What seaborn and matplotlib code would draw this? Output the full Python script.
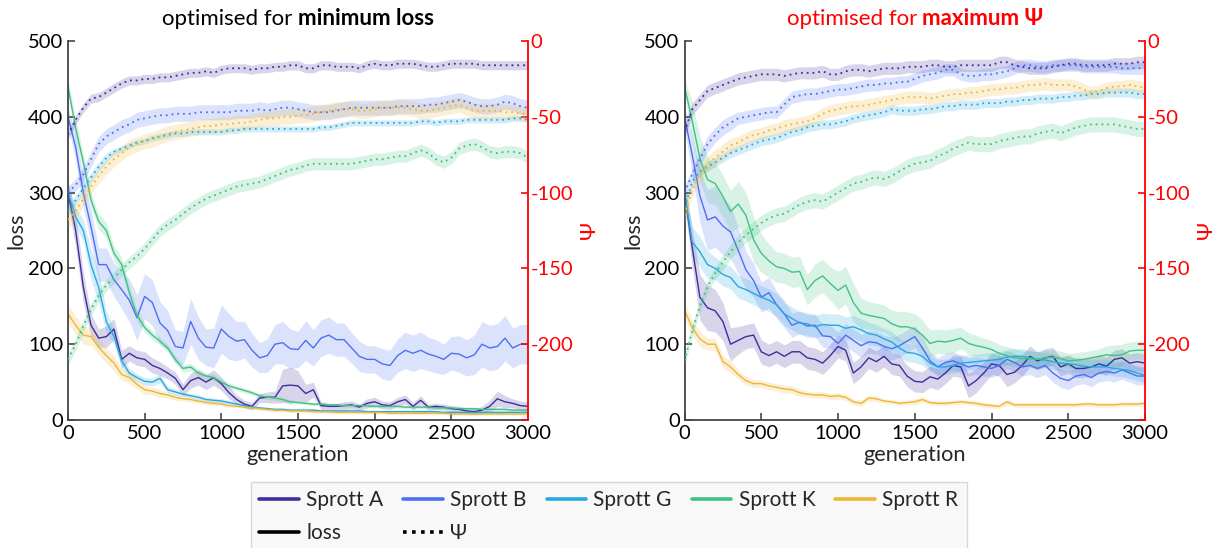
import numpy as np
import matplotlib
matplotlib.use("Agg")
import matplotlib.pyplot as plt
import seaborn as sns
from matplotlib.lines import Line2D

# ---------------------------------------------------------------- data
generation = list(range(0, 3001, 50))

systems = ["Sprott A", "Sprott B", "Sprott G", "Sprott K", "Sprott R"]
colors = ["#3c2e9e", "#4d6ff2", "#27a8e0", "#40c283", "#eeb634"]

# --- optimised for minimum loss: loss (mean, half band width)
minloss_loss_A = [300, 250, 175, 125, 108, 110, 120, 80, 88, 82,
                  80, 72, 68, 62, 55, 40, 52, 56, 50, 56,
                  48, 36, 27, 21, 18, 29, 30, 30, 45, 46,
                  45, 35, 40, 19, 18, 18, 19, 20, 17, 22,
                  24, 20, 19, 24, 27, 18, 26, 17, 18, 17,
                  15, 14, 12, 11, 13, 18, 28, 24, 22, 19,
                  18]
minloss_loss_A_band = [15, 22, 20, 15, 12, 14, 14, 12, 10, 10,
                       10, 10, 9, 8, 8, 8, 10, 10, 10, 10,
                       9, 8, 6, 5, 5, 6, 7, 8, 22, 24,
                       20, 12, 10, 5, 4, 4, 5, 5, 4, 6,
                       6, 5, 5, 6, 6, 5, 6, 4, 4, 4,
                       4, 4, 4, 4, 5, 8, 10, 8, 6, 6,
                       6]
minloss_loss_B = [400, 360, 300, 255, 205, 205, 185, 172, 158, 135,
                  163, 155, 128, 118, 97, 95, 130, 108, 96, 95,
                  120, 110, 104, 106, 92, 82, 85, 100, 102, 94,
                  93, 105, 95, 108, 112, 106, 106, 95, 84, 80,
                  80, 74, 72, 85, 92, 88, 92, 87, 84, 80,
                  88, 87, 82, 86, 100, 95, 97, 108, 95, 100,
                  100]
minloss_loss_B_band = [12, 18, 20, 22, 22, 22, 22, 25, 28, 30,
                       30, 30, 28, 26, 22, 22, 30, 28, 24, 26,
                       32, 30, 26, 24, 22, 20, 22, 26, 28, 26,
                       24, 26, 24, 24, 24, 22, 22, 20, 20, 18,
                       18, 20, 20, 22, 24, 24, 24, 22, 22, 20,
                       22, 24, 24, 26, 30, 30, 30, 30, 26, 26,
                       26]
minloss_loss_G = [300, 268, 250, 205, 175, 130, 110, 78, 62, 56,
                  51, 50, 55, 40, 37, 34, 32, 30, 27, 26,
                  25, 23, 21, 19, 17, 16, 15, 14, 14, 13,
                  13, 13, 13, 12, 12, 12, 12, 12, 12, 11,
                  11, 11, 11, 11, 11, 11, 11, 11, 11, 10,
                  10, 10, 10, 10, 10, 10, 10, 10, 10, 10,
                  10]
minloss_loss_G_band = [10, 12, 14, 20, 20, 15, 10, 8, 6, 5,
                       5, 5, 6, 4, 4, 3, 3, 3, 3, 3,
                       3, 3, 2, 2, 2, 2, 2, 2, 2, 2,
                       2, 2, 2, 2, 2, 2, 2, 2, 2, 2,
                       2, 2, 2, 2, 2, 2, 2, 2, 2, 2,
                       2, 2, 2, 2, 2, 2, 2, 2, 2, 2,
                       2]
minloss_loss_K = [440, 385, 340, 290, 262, 250, 220, 205, 168, 138,
                  122, 112, 104, 95, 80, 68, 70, 62, 58, 56,
                  50, 45, 42, 39, 36, 32, 30, 29, 27, 24,
                  23, 22, 21, 21, 20, 20, 19, 19, 19, 19,
                  18, 18, 18, 18, 17, 17, 17, 17, 16, 16,
                  16, 15, 15, 15, 14, 14, 14, 14, 13, 13,
                  13]
minloss_loss_K_band = [10, 12, 12, 10, 10, 10, 10, 10, 8, 8,
                       6, 6, 5, 5, 5, 5, 5, 5, 4, 4,
                       4, 4, 3, 3, 3, 3, 3, 3, 3, 3,
                       2, 2, 2, 2, 2, 2, 2, 2, 2, 2,
                       2, 2, 2, 2, 2, 2, 2, 2, 2, 2,
                       2, 2, 2, 2, 2, 2, 2, 2, 2, 2,
                       2]
minloss_loss_R = [140, 125, 112, 110, 96, 85, 75, 60, 56, 47,
                  40, 38, 35, 33, 30, 28, 27, 25, 23, 22,
                  21, 19, 18, 17, 16, 15, 14, 13, 13, 12,
                  12, 12, 11, 11, 11, 10, 10, 10, 10, 10,
                  10, 10, 9, 9, 9, 9, 9, 9, 9, 9,
                  8, 8, 8, 8, 8, 8, 8, 8, 8, 8,
                  8]
minloss_loss_R_band = [12, 12, 12, 12, 10, 10, 10, 8, 8, 6,
                       6, 5, 5, 4, 4, 3, 3, 3, 3, 3,
                       2, 2, 2, 2, 2, 2, 2, 2, 2, 2,
                       2, 2, 2, 2, 2, 2, 2, 2, 2, 2,
                       2, 2, 2, 2, 2, 2, 2, 2, 2, 2,
                       2, 2, 2, 2, 2, 2, 2, 2, 2, 2,
                       2]

# --- optimised for minimum loss: Psi
minloss_psi_A = [-62, -52, -44, -38, -37, -34, -31, -28, -26, -26,
                 -25, -25, -24, -24, -23, -22, -21, -21, -20, -21,
                 -19, -18, -18, -18, -19, -18, -18, -17, -17, -16,
                 -16, -18, -18, -16, -16, -17, -17, -17, -18, -16,
                 -15, -16, -16, -15, -15, -15, -16, -17, -17, -16,
                 -15, -15, -15, -15, -16, -16, -16, -16, -16, -16,
                 -16]
minloss_psi_B = [-100, -95, -88, -78, -68, -63, -60, -57, -55, -52,
                 -51, -50, -49, -49, -48, -48, -48, -47, -47, -47,
                 -47, -47, -46, -46, -46, -45, -46, -45, -44, -44,
                 -45, -46, -47, -47, -47, -46, -45, -44, -44, -44,
                 -44, -44, -44, -43, -43, -43, -43, -42, -42, -41,
                 -40, -39, -40, -42, -43, -43, -42, -40, -41, -43,
                 -44]
minloss_psi_G = [-112, -105, -97, -90, -83, -77, -73, -71, -69, -67,
                 -66, -64, -63, -62, -61, -61, -60, -60, -60, -60,
                 -60, -59, -59, -58, -58, -58, -58, -58, -58, -58,
                 -58, -58, -58, -57, -57, -56, -55, -54, -54, -54,
                 -54, -54, -54, -54, -54, -54, -53, -53, -54, -53,
                 -53, -53, -52, -52, -52, -52, -52, -52, -51, -51,
                 -52]
minloss_psi_K = [-210, -200, -188, -177, -168, -161, -156, -151, -146, -142,
                 -137, -131, -125, -121, -118, -114, -110, -107, -104, -102,
                 -100, -98, -96, -95, -94, -93, -91, -89, -87, -85,
                 -84, -82, -81, -81, -81, -81, -81, -81, -80, -79,
                 -78, -78, -77, -76, -76, -74, -72, -74, -78, -80,
                 -77, -71, -69, -68, -70, -73, -74, -73, -73, -74,
                 -77]
minloss_psi_R = [-118, -112, -104, -96, -89, -83, -78, -74, -70, -68,
                 -66, -65, -63, -61, -60, -59, -58, -57, -56, -56,
                 -55, -55, -54, -54, -53, -52, -51, -51, -50, -50,
                 -49, -49, -48, -47, -46, -45, -45, -45, -46, -46,
                 -45, -44, -44, -44, -44, -45, -46, -46, -45, -44,
                 -43, -42, -44, -46, -46, -46, -46, -47, -47, -48,
                 -48]
minloss_psi_band_A = [3, 3, 3, 3, 3, 3, 3, 3, 3, 3,
                      3, 3, 3, 3, 3, 3, 3, 3, 3, 3,
                      3, 3, 3, 3, 3, 3, 3, 3, 3, 3,
                      3, 3, 3, 3, 3, 3, 3, 3, 3, 3,
                      3, 3, 3, 3, 3, 3, 3, 3, 3, 3,
                      3, 3, 3, 3, 3, 3, 3, 3, 3, 3,
                      3]
minloss_psi_band_B = [4, 4, 5, 5, 5, 5, 5, 5, 5, 5,
                      5, 5, 5, 5, 5, 5, 5, 5, 5, 5,
                      5, 5, 5, 5, 5, 5, 5, 5, 5, 5,
                      5, 5, 5, 5, 5, 5, 5, 5, 5, 5,
                      5, 5, 5, 5, 5, 5, 5, 5, 5, 5,
                      5, 5, 5, 5, 5, 5, 5, 5, 5, 5,
                      5]
minloss_psi_band_G = [3, 3, 3, 3, 3, 3, 2, 2, 2, 2,
                      2, 2, 2, 2, 2, 2, 2, 2, 2, 2,
                      2, 2, 2, 2, 2, 2, 2, 2, 2, 2,
                      2, 2, 2, 2, 2, 2, 2, 2, 2, 2,
                      2, 2, 2, 2, 2, 2, 2, 2, 2, 2,
                      2, 2, 2, 2, 2, 2, 2, 2, 2, 2,
                      2]
minloss_psi_band_K = [4, 4, 4, 4, 4, 4, 4, 4, 4, 4,
                      4, 4, 4, 4, 4, 4, 4, 4, 4, 4,
                      4, 4, 4, 4, 4, 4, 4, 4, 4, 4,
                      4, 4, 4, 4, 4, 4, 4, 4, 4, 4,
                      4, 4, 4, 4, 4, 4, 4, 4, 4, 4,
                      4, 4, 4, 4, 4, 4, 4, 4, 4, 4,
                      4]
minloss_psi_band_R = [6, 6, 5, 5, 5, 5, 5, 5, 5, 5,
                      5, 5, 5, 5, 5, 5, 5, 5, 5, 5,
                      5, 5, 5, 5, 5, 5, 5, 5, 5, 5,
                      5, 5, 5, 5, 5, 5, 5, 5, 5, 5,
                      5, 5, 5, 5, 5, 5, 5, 5, 5, 5,
                      5, 5, 5, 5, 5, 5, 5, 5, 5, 5,
                      5]

# --- optimised for maximum Psi: loss
maxpsi_loss_A = [300, 228, 162, 148, 144, 130, 100, 105, 110, 112,
                 90, 85, 90, 84, 90, 90, 82, 80, 75, 85,
                 97, 92, 62, 70, 82, 77, 84, 74, 72, 58,
                 51, 50, 57, 54, 62, 72, 70, 45, 52, 62,
                 74, 72, 60, 63, 72, 84, 78, 82, 84, 70,
                 74, 68, 68, 70, 74, 71, 80, 82, 75, 77,
                 75]
maxpsi_loss_A_band = [15, 25, 30, 30, 28, 25, 22, 18, 16, 16,
                      16, 15, 15, 15, 15, 15, 15, 15, 15, 15,
                      15, 14, 14, 14, 14, 14, 14, 14, 14, 14,
                      14, 14, 14, 14, 14, 14, 14, 16, 16, 14,
                      14, 14, 16, 14, 14, 14, 12, 12, 12, 12,
                      12, 12, 12, 12, 12, 12, 12, 12, 12, 12,
                      12]
maxpsi_loss_B = [400, 350, 296, 264, 268, 256, 248, 224, 198, 184,
                 162, 168, 152, 140, 125, 129, 124, 125, 111, 110,
                 101, 112, 105, 98, 103, 102, 97, 94, 98, 104,
                 110, 95, 78, 70, 76, 78, 74, 70, 72, 70,
                 68, 72, 80, 76, 70, 72, 68, 72, 62, 55,
                 52, 58, 60, 56, 62, 64, 62, 66, 62, 58,
                 58]
maxpsi_loss_B_band = [15, 25, 35, 40, 40, 38, 35, 30, 25, 22,
                      20, 20, 18, 18, 16, 15, 15, 15, 15, 15,
                      15, 15, 15, 15, 15, 15, 15, 15, 15, 15,
                      15, 15, 12, 12, 12, 12, 12, 12, 12, 12,
                      12, 12, 12, 12, 12, 12, 12, 12, 12, 12,
                      12, 12, 12, 12, 12, 12, 12, 12, 12, 12,
                      12]
maxpsi_loss_G = [300, 235, 222, 205, 200, 192, 188, 176, 172, 167,
                 162, 158, 152, 140, 134, 128, 127, 123, 126, 125,
                 125, 121, 123, 119, 114, 112, 107, 103, 95, 89,
                 88, 84, 75, 70, 70, 72, 75, 76, 77, 78,
                 79, 80, 83, 84, 84, 82, 80, 79, 77, 75,
                 74, 73, 71, 70, 70, 70, 68, 67, 65, 62,
                 59]
maxpsi_loss_G_band = [15, 20, 20, 18, 15, 15, 15, 15, 15, 15,
                      15, 15, 15, 15, 15, 15, 15, 15, 15, 15,
                      15, 15, 15, 15, 15, 14, 14, 14, 12, 12,
                      12, 12, 10, 10, 10, 10, 10, 10, 10, 10,
                      10, 10, 10, 10, 10, 10, 10, 10, 10, 10,
                      10, 10, 10, 10, 10, 10, 10, 10, 10, 10,
                      10]
maxpsi_loss_K = [440, 395, 345, 317, 312, 295, 275, 285, 270, 238,
                 220, 210, 202, 200, 195, 196, 172, 184, 190, 180,
                 171, 178, 155, 141, 138, 136, 134, 127, 123, 123,
                 120, 112, 101, 104, 103, 105, 108, 101, 98, 96,
                 93, 88, 85, 82, 81, 81, 80, 82, 83, 81,
                 78, 79, 80, 82, 84, 86, 85, 86, 91, 92,
                 92]
maxpsi_loss_K_band = [10, 25, 30, 30, 28, 28, 28, 30, 30, 30,
                      25, 22, 20, 20, 20, 20, 20, 22, 22, 22,
                      25, 25, 25, 20, 18, 18, 18, 18, 20, 20,
                      20, 20, 18, 16, 16, 16, 14, 14, 14, 12,
                      12, 12, 12, 12, 10, 10, 10, 10, 10, 10,
                      10, 10, 10, 10, 10, 12, 14, 14, 12, 12,
                      12]
maxpsi_loss_R = [145, 122, 107, 100, 100, 77, 70, 60, 52, 48,
                 48, 45, 43, 41, 40, 36, 34, 33, 33, 31,
                 32, 30, 24, 22, 29, 28, 25, 24, 22, 23,
                 24, 27, 23, 22, 22, 23, 24, 23, 22, 20,
                 19, 18, 24, 20, 20, 20, 20, 20, 20, 20,
                 20, 20, 21, 21, 20, 20, 20, 21, 21, 21,
                 22]
maxpsi_loss_R_band = [10, 10, 10, 8, 8, 8, 8, 6, 6, 5,
                      5, 5, 5, 5, 5, 5, 4, 4, 4, 4,
                      4, 4, 4, 4, 4, 4, 3, 3, 3, 3,
                      4, 4, 3, 3, 3, 3, 3, 3, 3, 3,
                      3, 3, 4, 3, 3, 3, 3, 3, 3, 3,
                      3, 3, 3, 3, 3, 3, 3, 3, 3, 3,
                      3]

# --- optimised for maximum Psi: Psi
maxpsi_psi_A = [-60, -45, -39, -33, -31, -29, -27, -25, -24, -23,
                -22, -22, -22, -23, -22, -21, -21, -21, -20, -22,
                -22, -20, -19, -19, -20, -19, -18, -18, -18, -17,
                -17, -17, -16, -16, -17, -17, -16, -16, -16, -16,
                -16, -14, -14, -16, -17, -18, -18, -18, -17, -16,
                -15, -15, -16, -16, -16, -16, -15, -15, -15, -14,
                -14]
maxpsi_psi_B = [-100, -88, -78, -68, -62, -57, -54, -51, -50, -49,
                -48, -47, -47, -42, -37, -36, -35, -35, -34, -33,
                -32, -32, -31, -30, -29, -29, -28, -28, -27, -27,
                -25, -23, -22, -21, -19, -19, -22, -23, -23, -22,
                -22, -21, -20, -18, -16, -16, -17, -17, -16, -16,
                -16, -16, -17, -17, -17, -17, -17, -18, -18, -18,
                -18]
maxpsi_psi_G = [-110, -93, -86, -83, -80, -77, -74, -72, -70, -68,
                -66, -65, -64, -62, -60, -59, -57, -56, -55, -55,
                -54, -53, -51, -50, -49, -48, -47, -45, -46, -46,
                -46, -45, -45, -44, -43, -43, -42, -42, -42, -41,
                -41, -41, -40, -40, -39, -39, -38, -38, -38, -37,
                -37, -36, -36, -35, -35, -34, -34, -34, -34, -35,
                -35]
maxpsi_psi_K = [-211, -191, -175, -162, -153, -146, -139, -133, -128, -124,
                -120, -117, -115, -114, -111, -108, -106, -105, -106, -103,
                -100, -97, -94, -93, -91, -90, -91, -89, -86, -83,
                -81, -80, -79, -76, -74, -71, -69, -67, -68, -68,
                -68, -66, -65, -64, -63, -63, -61, -60, -59, -61,
                -59, -57, -56, -55, -55, -55, -55, -56, -57, -58,
                -58]
maxpsi_psi_R = [-115, -98, -88, -81, -77, -73, -69, -67, -64, -62,
                -61, -59, -58, -56, -55, -54, -53, -51, -48, -46,
                -45, -44, -43, -43, -42, -41, -40, -39, -38, -37,
                -37, -37, -38, -37, -36, -35, -35, -34, -34, -33,
                -32, -32, -31, -31, -30, -29, -29, -28, -29, -29,
                -29, -30, -32, -34, -33, -31, -30, -30, -29, -30,
                -31]
maxpsi_psi_band_A = [4, 4, 4, 4, 4, 4, 4, 4, 4, 4,
                     4, 4, 4, 4, 4, 4, 4, 4, 4, 4,
                     4, 4, 4, 4, 4, 4, 4, 4, 4, 4,
                     4, 4, 4, 4, 4, 4, 4, 4, 4, 4,
                     4, 4, 4, 4, 4, 4, 4, 4, 4, 4,
                     4, 4, 4, 4, 4, 4, 4, 4, 4, 4,
                     4]
maxpsi_psi_band_B = [4, 4, 5, 5, 5, 5, 5, 4, 4, 4,
                     4, 4, 4, 4, 4, 4, 4, 4, 4, 4,
                     4, 4, 4, 4, 4, 4, 4, 4, 4, 4,
                     4, 4, 4, 4, 4, 4, 4, 4, 4, 4,
                     4, 4, 4, 4, 4, 4, 4, 4, 4, 4,
                     4, 4, 4, 4, 4, 4, 4, 4, 4, 4,
                     4]
maxpsi_psi_band_G = [3, 3, 3, 3, 3, 3, 3, 3, 3, 3,
                     3, 3, 3, 3, 3, 3, 3, 3, 3, 3,
                     3, 3, 3, 3, 3, 3, 3, 3, 3, 3,
                     3, 3, 3, 3, 3, 3, 3, 3, 3, 3,
                     3, 3, 3, 3, 3, 3, 3, 3, 3, 3,
                     3, 3, 3, 3, 3, 3, 3, 3, 3, 3,
                     3]
maxpsi_psi_band_K = [4, 4, 4, 4, 4, 5, 5, 5, 5, 5,
                     5, 5, 5, 5, 5, 5, 5, 5, 5, 5,
                     5, 5, 5, 5, 5, 5, 5, 5, 5, 5,
                     5, 5, 5, 5, 5, 5, 5, 5, 5, 5,
                     5, 5, 5, 5, 5, 5, 5, 5, 5, 5,
                     5, 5, 5, 5, 5, 5, 5, 5, 5, 5,
                     5]
maxpsi_psi_band_R = [5, 5, 5, 5, 5, 5, 5, 4, 4, 4,
                     4, 4, 4, 4, 4, 4, 4, 4, 4, 4,
                     4, 4, 4, 4, 4, 4, 4, 4, 4, 4,
                     4, 4, 4, 4, 4, 4, 4, 4, 4, 4,
                     4, 4, 4, 4, 4, 4, 4, 4, 4, 4,
                     4, 4, 4, 4, 4, 4, 4, 4, 4, 4,
                     4]

x_ticks = [0, 500, 1000, 1500, 2000, 2500, 3000]
loss_ticks = [0, 100, 200, 300, 400, 500]
psi_ticks = [-250, -200, -150, -100, -50, 0]
psi_ticklabels = ["", "-200", "-150", "-100", "-50", "0"]

panels = [
    {
        "title": ("optimised for", "minimum loss"),
        "title_color": "black",
        "loss": [(minloss_loss_A, minloss_loss_A_band), (minloss_loss_B, minloss_loss_B_band),
                 (minloss_loss_G, minloss_loss_G_band), (minloss_loss_K, minloss_loss_K_band),
                 (minloss_loss_R, minloss_loss_R_band)],
        "psi": [(minloss_psi_A, minloss_psi_band_A), (minloss_psi_B, minloss_psi_band_B),
                (minloss_psi_G, minloss_psi_band_G), (minloss_psi_K, minloss_psi_band_K),
                (minloss_psi_R, minloss_psi_band_R)],
    },
    {
        "title": ("optimised for", "maximum Ψ"),
        "title_color": "#ff0000",
        "loss": [(maxpsi_loss_A, maxpsi_loss_A_band), (maxpsi_loss_B, maxpsi_loss_B_band),
                 (maxpsi_loss_G, maxpsi_loss_G_band), (maxpsi_loss_K, maxpsi_loss_K_band),
                 (maxpsi_loss_R, maxpsi_loss_R_band)],
        "psi": [(maxpsi_psi_A, maxpsi_psi_band_A), (maxpsi_psi_B, maxpsi_psi_band_B),
                (maxpsi_psi_G, maxpsi_psi_band_G), (maxpsi_psi_K, maxpsi_psi_band_K),
                (maxpsi_psi_R, maxpsi_psi_band_R)],
    },
]

# ---------------------------------------------------------------- style
sns.set_theme(style="white")
plt.rcParams["font.family"] = ["Lato", "DejaVu Sans"]
plt.rcParams["axes.unicode_minus"] = False

W, H = 1226, 548
fig = plt.figure(figsize=(W / 100, H / 100), dpi=100)
fig.patch.set_facecolor("white")

axes_rects = [
    [68 / W, 128 / H, 460 / W, 379 / H],
    [684.5 / W, 128 / H, 460.5 / W, 379 / H],
]

spine_grey = "#444444"
red = "#ff0000"
dotted = (0, (1, 2.2))
tick_size = 14.5
label_size = 15.7

for rect, panel in zip(axes_rects, panels):
    ax = fig.add_axes(rect)
    axr = ax.twinx()

    for (mean, band), c in zip(panel["loss"], colors):
        m = np.asarray(mean, float)
        b = np.asarray(band, float)
        ax.fill_between(generation, m - b, m + b, color=c, alpha=0.2, lw=0)
        sns.lineplot(x=generation, y=m, ax=ax, color=c, lw=1.0,
                     errorbar=None, legend=False)

    for (mean, band), c in zip(panel["psi"], colors):
        m = np.asarray(mean, float)
        b = np.asarray(band, float)
        axr.fill_between(generation, m - b, m + b, color=c, alpha=0.2, lw=0)
        sns.lineplot(x=generation, y=m, ax=axr, color=c, lw=1.3,
                     linestyle=dotted, errorbar=None, legend=False)

    ax.set_xlim(0, 3000)
    ax.set_ylim(0, 500)
    axr.set_ylim(-250, 0)
    ax.set_xticks(x_ticks)
    ax.set_yticks(loss_ticks)
    axr.set_yticks(psi_ticks)
    axr.set_yticklabels(psi_ticklabels)

    for s in ["top", "right"]:
        ax.spines[s].set_visible(False)
    for s in ["left", "bottom"]:
        ax.spines[s].set_color(spine_grey)
        ax.spines[s].set_linewidth(1.3)
    for s in ["top", "left", "bottom"]:
        axr.spines[s].set_visible(False)
    axr.spines["right"].set_color(red)
    axr.spines["right"].set_linewidth(1.3)

    ax.tick_params(axis="x", which="major", direction="in", length=5, width=1.2,
                   color=spine_grey, labelcolor="black", labelsize=tick_size,
                   bottom=True, pad=3.5)
    ax.tick_params(axis="y", which="major", direction="in", length=5, width=1.2,
                   color=spine_grey, labelcolor="black", labelsize=tick_size,
                   left=True, pad=3.5)
    axr.tick_params(axis="y", direction="in", length=5, width=1.2, color=red,
                    labelcolor=red, labelsize=tick_size, right=True, pad=2)

    ax.set_xlabel("generation", fontsize=label_size, labelpad=2)
    ax.set_ylabel("loss", fontsize=label_size, labelpad=1)
    axr.set_ylabel("Ψ", fontsize=label_size, color=red, rotation=90, labelpad=4)
    ax.set_zorder(1)
    axr.set_zorder(2)
    ax.patch.set_visible(False)

    panel["ax"] = ax

# ---------------------------------------------------------------- titles
fig.canvas.draw()
renderer = fig.canvas.get_renderer()
title_baseline = 1 - 25 / H
for panel in panels:
    ax = panel["ax"]
    pos = ax.get_position()
    cx = pos.x0 + pos.width / 2
    regular, bold = panel["title"]
    t1 = fig.text(0, title_baseline, regular, fontsize=16,
                  color=panel["title_color"], va="baseline", ha="left")
    t2 = fig.text(0, title_baseline, bold, fontsize=16, weight="bold",
                  color=panel["title_color"], va="baseline", ha="left")
    w1 = t1.get_window_extent(renderer).width / W
    w2 = t2.get_window_extent(renderer).width / W
    gap = 5 / W
    x0 = cx - (w1 + gap + w2) / 2
    t1.set_x(x0)
    t2.set_x(x0 + w1 + gap)

# ---------------------------------------------------------------- legend
series_handles = [Line2D([], [], color=c, lw=2.6) for c in colors]
loss_handle = Line2D([], [], color="black", lw=2.6)
psi_handle = Line2D([], [], color="black", lw=2.6, linestyle=(0, (1, 1.5)))
handles = [series_handles[0], loss_handle, series_handles[1], psi_handle,
           series_handles[2], series_handles[3], series_handles[4]]
labels = [systems[0], "loss", systems[1], "Ψ", systems[2], systems[3], systems[4]]
leg = fig.legend(handles, labels, ncol=5, loc="upper left",
                 bbox_to_anchor=(251 / W, 1 - 482 / H), borderaxespad=0,
                 frameon=True, fancybox=False, fontsize=15,
                 handlelength=1.9, handletextpad=0.35, columnspacing=0.96,
                 labelspacing=0.6, borderpad=0.4)
leg.get_frame().set_facecolor("#f7f7f7")
leg.get_frame().set_edgecolor("#cfcfcf")
leg.get_frame().set_linewidth(1.0)

fig.savefig("out.png", dpi=100)
